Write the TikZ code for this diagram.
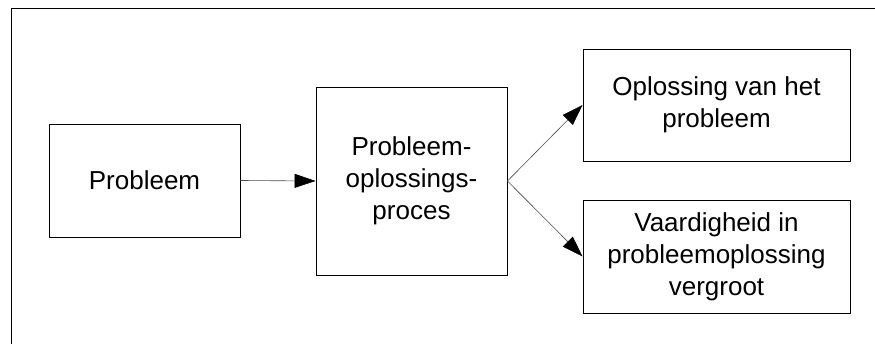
\documentclass[tikz,border=0pt]{standalone}
\usepackage{fontspec}
\setmainfont{Liberation Sans}
\usetikzlibrary{arrows.meta}

\begin{document}
\begin{tikzpicture}[x=1pt, y=-1pt]
\useasboundingbox (0,0) rectangle (875,344);
\tikzstyle{blok}=[draw, line width=0.9pt, inner sep=0pt, align=center, font=\fontsize{26}{32}\selectfont]
\draw[line width=1pt] (11,344) -- (11,9) -- (875,9);
\node[blok, minimum width=191pt, minimum height=113pt](prob) at (144.5,180.5){Probleem};
\node[blok, minimum width=191pt, minimum height=188pt](proc) at (411.5,181){Probleem-\\oplossings-\\proces};
\node[blok, minimum width=267pt, minimum height=112pt](opl) at (716.5,105){Oplossing van het\\probleem};
\node[blok, minimum width=267pt, minimum height=113pt](vaar) at (716.5,256.5){Vaardigheid in\\probleemoplossing\\vergroot};
 \tikzstyle{pijl}=[line width=0.6pt, black!70, -{Triangle[length=21pt, width=14pt, color=black]}]
 \foreach \i/\j in {prob.east/proc.west,proc.east/opl.west,proc.east/vaar.west}{\draw[pijl] (\i) -- (\j);}
\end{tikzpicture}
\end{document}
